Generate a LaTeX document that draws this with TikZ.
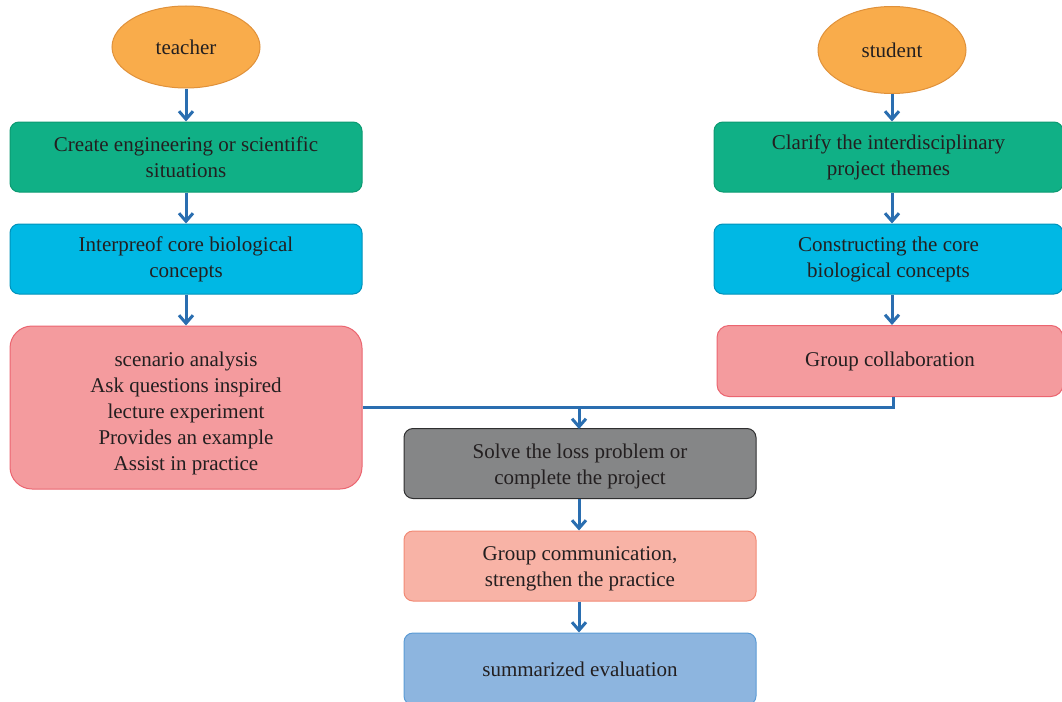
\documentclass[tikz,border=0pt]{standalone}
\usepackage{fontspec}
\setmainfont{Liberation Serif}
\usetikzlibrary{arrows.meta,shapes.geometric}
\definecolor{txt}{HTML}{231F20}
\definecolor{orf}{HTML}{F9AC4B}
\definecolor{ord}{HTML}{E0913A}
\definecolor{grf}{HTML}{10B086}
\definecolor{grd}{HTML}{0C9A72}
\definecolor{cyf}{HTML}{00B8E4}
\definecolor{cyd}{HTML}{0092BA}
\definecolor{pkf}{HTML}{F49B9E}
\definecolor{pkd}{HTML}{EB6570}
\definecolor{gyf}{HTML}{858687}
\definecolor{gyd}{HTML}{2F2F30}
\definecolor{saf}{HTML}{F8B3A6}
\definecolor{sad}{HTML}{F28A75}
\definecolor{blf}{HTML}{8DB5DF}
\definecolor{bld}{HTML}{5B9BD5}
\definecolor{arc}{HTML}{2A6EB0}
\begin{document}
\begin{tikzpicture}[x=1pt,y=-1pt,
  lbl/.style={font=\fontsize{21}{26}\selectfont, text=txt, align=center},
  box/.style={lbl, rounded corners=9pt, draw, line width=1pt, minimum height=70pt, inner sep=0pt},
  ell/.style={lbl, ellipse, draw=ord, fill=orf, line width=1pt, inner sep=0pt, minimum width=148pt},
  conn/.style={draw=arc, line width=3pt},
  arr/.style={conn, -{Straight Barb[length=8pt,width=14pt,line width=3pt]}}]
\useasboundingbox (0,0) rectangle (1062,701);
\clip (0,0) rectangle (1062,701);
% teacher column
\node[ell, minimum height=82pt] (t) at (186,47) {teacher};
\node[box, fill=grf, draw=grd, minimum width=352pt] (t1) at (186,157) {Create engineering or scientific\\situations};
\node[box, fill=cyf, draw=cyd, minimum width=352pt] (t2) at (186,259) {Interpreof core biological\\concepts};
\node[box, fill=pkf, draw=pkd, minimum width=352pt, minimum height=163pt, rounded corners=22pt,
  label={[lbl, yshift=-6pt]center:scenario analysis\\Ask questions inspired\\lecture experiment\\Provides an example\\Assist in practice}] (t3) at (186,407.5) {};
% student column
\node[ell, minimum height=87pt] (s) at (892,50) {student};
\node[box, fill=grf, draw=grd, minimum width=349pt] (s1) at (888.5,157) {Clarify the interdisciplinary\\project themes};
\node[box, fill=cyf, draw=cyd, minimum width=349pt] (s2) at (888.5,259) {Constructing the core\\biological concepts};
\node[box, fill=pkf, draw=pkd, minimum width=346pt, minimum height=71pt, rounded corners=12pt] (s3) at (890,361) {Group collaboration};
% centre column
\node[box, fill=gyf, draw=gyd, minimum width=352pt,
  label={[lbl, yshift=-3pt]center:Solve the loss problem or\\complete the project}] (c1) at (580,463.5) {};
\node[box, fill=saf, draw=sad, minimum width=352pt,
  label={[lbl, yshift=-3pt]center:Group communication,\\strengthen the practice}] (c2) at (580,566) {};
\node[box, fill=blf, draw=bld, minimum width=352pt, minimum height=72pt] (c3) at (580,669) {summarized evaluation};
% connectors
\draw[arr] (t.south) -- (t1.north);
\draw[arr] (t1.south) -- (t2.north);
\draw[arr] (t2.south) -- (t3.north);
\draw[arr] (s.south) -- (s.south |- s1.north);
\draw[arr] (s.south |- s1.south) -- (s.south |- s2.north);
\draw[arr] (s.south |- s2.south) -- (s.south |- s3.north);
\coordinate (j) at (893,407);
\draw[conn] (t3.east |- j) -- (j) -- (j |- s3.south);
\draw[arr] (579,407) -- (579,429);
\draw[arr] (c1.south -| 579,0) -- (c2.north -| 579,0);
\draw[arr] (c2.south -| 579,0) -- (c3.north -| 579,0);
\end{tikzpicture}
\end{document}
